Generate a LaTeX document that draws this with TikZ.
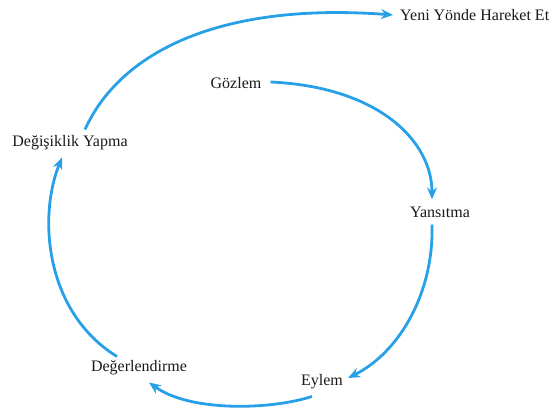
\documentclass[tikz,border=0pt]{standalone}
\usepackage{fontspec}
\setmainfont{Liberation Serif}
\usetikzlibrary{arrows.meta}
\definecolor{cycleblue}{RGB}{40,160,232}
\begin{document}
\begin{tikzpicture}[x=1pt,y=1pt,
  label/.style={font=\fontsize{16}{18}\selectfont, text=black!90, inner sep=1pt},
  flow/.style={draw=cycleblue, line width=2.8pt, -{Stealth[length=12pt,width=10pt]}}]
\useasboundingbox (0,0) rectangle (558,412);
% stages of the cycle
\node[label] (gozlem) at (236,329) {Gözlem};
\node[label] (yansitma) at (440,200) {Yansıtma};
\node[label] (eylem) at (322,30) {Eylem};
\node[label] (deger) at (139,44) {Değerlendirme};
\node[label] (degisim) at (70,269) {Değişiklik Yapma};
\node[label, anchor=west] (yeni) at (399,397) {Yeni Yönde Hareket Et};
% arrows between the stages
\draw[flow] ([xshift=8pt,yshift=1pt]gozlem.east) .. controls (380,325) and (432,270) .. ([xshift=-8pt,yshift=6pt]yansitma.north);
\draw[flow] ([xshift=-8pt,yshift=-6pt]yansitma.south) .. controls (434,120) and (400,60) .. ([xshift=4pt,yshift=4pt]eylem.east);
\draw[flow] ([xshift=-10pt,yshift=-6pt]eylem.south) .. controls (270,2) and (190,0) .. ([xshift=10pt,yshift=-6pt]deger.south);
\draw[flow] ([xshift=-22pt,yshift=3pt]deger.north) .. controls (45,100) and (38,195) .. ([xshift=-8pt,yshift=-6pt]degisim.south);
\draw[flow] ([xshift=15pt,yshift=5pt]degisim.north) .. controls (120,360) and (220,410) .. ([xshift=-6pt]yeni.west);
\end{tikzpicture}
\end{document}
